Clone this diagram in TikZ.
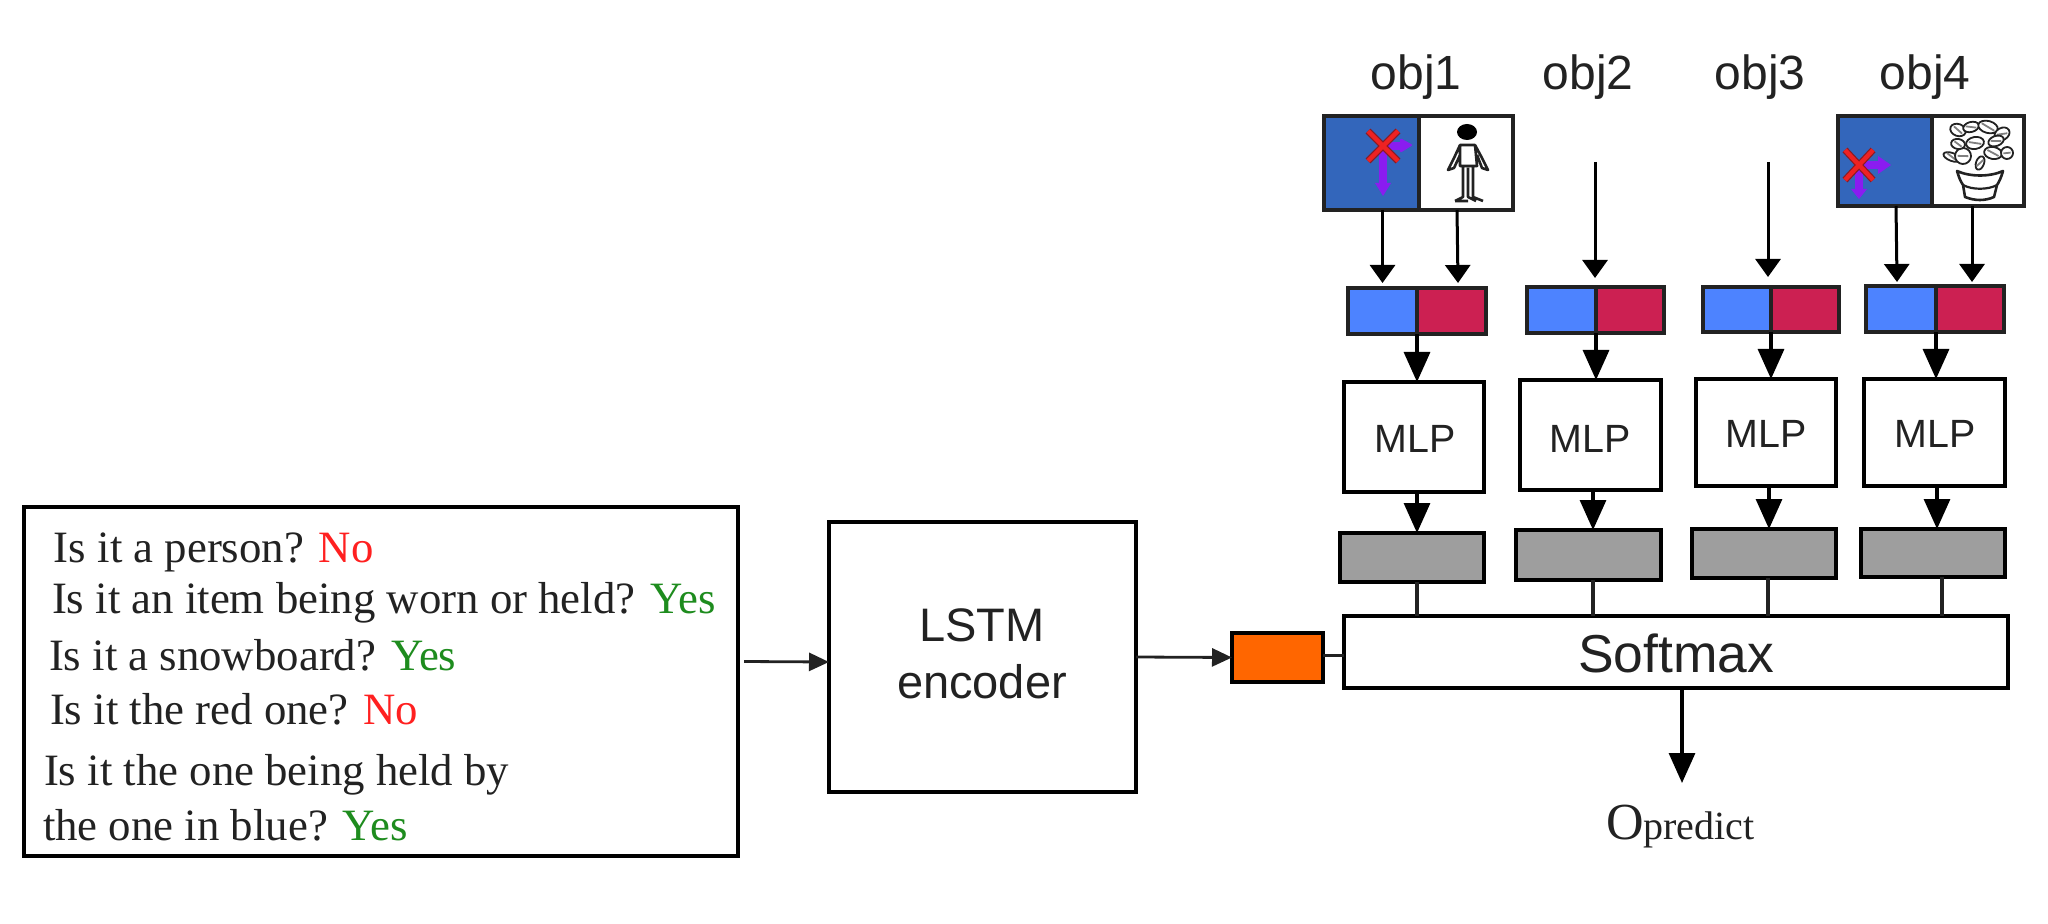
\documentclass[tikz,border=0pt]{standalone}
\usepackage{fontspec}
\setmainfont{Liberation Serif}
\setsansfont{Liberation Sans}
\usetikzlibrary{arrows.meta}
\definecolor{imgblue}{HTML}{3366BB}
\definecolor{vecblue}{HTML}{4D83FF}
\definecolor{vecred}{HTML}{CC2052}
\definecolor{hidgray}{HTML}{9E9E9E}
\definecolor{encorange}{HTML}{FF6600}
\definecolor{ansred}{HTML}{FF2020}
\definecolor{ansgreen}{HTML}{1E8C1E}
\definecolor{ink}{HTML}{222222}
\definecolor{xred}{HTML}{EE2222}
\definecolor{xdark}{HTML}{8A1A22}
\definecolor{xpurple}{HTML}{8A1CF0}
\newcommand{\pxbox}[6]{%
  \pgfmathsetmacro{\bw}{(#5-#3)*0.5}%
  \pgfmathsetmacro{\bh}{(#6-#4)*0.5}%
  \pgfmathsetmacro{\bx}{(#3+#5)/2}%
  \pgfmathsetmacro{\by}{(#4+#6)/2}%
  \node[boxbase,#2,minimum width=\bw pt,minimum height=\bh pt] (#1) at (\bx,\by) {};}
\newcommand{\mlptext}[3]{\node[mlplabel] (#1) at (#2,#3) {MLP};}
\tikzset{
  x=0.5pt,y=-0.5pt,
  boxbase/.style={draw=black,line width=1.7pt,fill=white,inner sep=0pt,outer sep=0pt},
  imgb/.style={fill=imgblue,draw=ink},
  imgw/.style={fill=white,draw=ink},
  vecl/.style={fill=vecblue,draw=ink},
  vecr/.style={fill=vecred,draw=ink},
  hid/.style={fill=hidgray,draw=black},
  enc/.style={fill=encorange,draw=black},
  qline/.style={anchor=base west,inner sep=0pt,outer sep=0pt,text=ink,font=\fontsize{22.4}{26}\selectfont},
  sanslabel/.style={inner sep=0pt,outer sep=0pt,text=ink,font=\sffamily\fontsize{23.5}{28}\selectfont},
  objlabel/.style={anchor=base,inner sep=0pt,outer sep=0pt,text=ink,font=\sffamily\fontsize{24}{28}\selectfont},
  mlplabel/.style={anchor=base,inner sep=0pt,outer sep=0pt,text=ink,font=\sffamily\fontsize{19.7}{24}\selectfont},
  thin arr/.style={draw=ink,line width=1.4pt,-{Triangle[length=10pt,width=9pt]}},
  small arr/.style={draw=black,line width=1.5pt,-{Triangle[length=9pt,width=12.5pt]}},
  big arr/.style={draw=black,line width=1.6pt,-{Triangle[length=15pt,width=13pt]}},
  plain link/.style={draw=ink,line width=1.7pt},
  leaf/.style={draw=ink,line width=0.9pt,fill=white},
  vein/.style={draw=gray,line width=0.9pt},
}
\begin{document}
\begin{tikzpicture}
\useasboundingbox (0,0) rectangle (2048,924);
\fill[white] (0,0) rectangle (2048,924);

% question box
\pxbox{qbox}{}{24}{507}{738}{856}
\node[qline] (q1) at (54,562) {Is it a person? \textcolor{ansred}{No}};
\node[qline] (q2) at (52,613) {Is it an item being worn or held? \textcolor{ansgreen}{Yes}};
\node[qline] (q3) at (49,670) {Is it a snowboard? \textcolor{ansgreen}{Yes}};
\node[qline] (q4) at (50,724) {Is it the red one? \textcolor{ansred}{No}};
\node[qline] (q5) at (44,785) {Is it the one being held by};
\node[qline] (q6) at (43,840) {the one in blue? \textcolor{ansgreen}{Yes}};

% encoder
\pxbox{lstm}{}{829}{522}{1136}{792}
\node[sanslabel,anchor=base] (lstm1) at (982,641) {LSTM};
\node[sanslabel,anchor=base] (lstm2) at (982,698) {encoder};
\pxbox{orange}{enc}{1232}{633}{1323}{682}
\pxbox{softmax}{}{1344}{616}{2008}{688}
\node[sanslabel,anchor=base,font=\sffamily\fontsize{26.7}{30}\selectfont] (softtext) at (1676,672) {Softmax};

% image crops
\pxbox{img1b}{imgb}{1324}{116}{1419}{210}
\pxbox{img1w}{imgw}{1419}{116}{1513}{210}
\pxbox{img4b}{imgb}{1838}{116}{1932}{206}
\pxbox{img4w}{imgw}{1932}{116}{2024}{206}

% concatenated vectors
\pxbox{c1l}{vecl}{1348}{288}{1417}{334}
\pxbox{c1r}{vecr}{1417}{288}{1486}{334}
\pxbox{c2l}{vecl}{1527}{287}{1596}{333}
\pxbox{c2r}{vecr}{1596}{287}{1664}{333}
\pxbox{c3l}{vecl}{1703}{287}{1771}{332}
\pxbox{c3r}{vecr}{1771}{287}{1839}{332}
\pxbox{c4l}{vecl}{1866}{286}{1936}{332}
\pxbox{c4r}{vecr}{1936}{286}{2004}{332}

% MLPs
\pxbox{m1}{}{1344}{382}{1484}{492}
\pxbox{m2}{}{1520}{380}{1661}{490}
\pxbox{m3}{}{1696}{379}{1836}{486}
\pxbox{m4}{}{1864}{379}{2005}{486}
\mlptext{mt1}{1415}{452}
\mlptext{mt2}{1590}{452}
\mlptext{mt3}{1766}{448}
\mlptext{mt4}{1935}{448}

% gray hidden vectors
\pxbox{g1}{hid}{1340}{533}{1484}{582}
\pxbox{g2}{hid}{1516}{530}{1661}{580}
\pxbox{g3}{hid}{1692}{529}{1836}{578}
\pxbox{g4}{hid}{1861}{529}{2005}{577}

% labels
\node[objlabel] (o1) at (1416,90) {obj1};
\node[objlabel] (o2) at (1588,90) {obj2};
\node[objlabel] (o3) at (1760,90) {obj3};
\node[objlabel] (o4) at (1925,90) {obj4};
\node[anchor=base west,inner sep=0pt,outer sep=0pt,text=ink] (pred) at (1606,839)
  {{\fontsize{26}{30}\selectfont O}{\fontsize{20}{24}\selectfont predict}};

% free arrow starts / ends
\coordinate (s2) at (1595,162);
\coordinate (e2) at (1595,278);
\coordinate (s3) at (1768,162);
\coordinate (e3) at (1768,277);
\coordinate (o5) at (1682,783);

% connectors
\draw[thin arr] ([xshift=3pt,yshift=10pt]qbox.east) -- ([yshift=-2.5pt]lstm.west);
\draw[thin arr] (lstm.east) -- (orange.west);
\draw[plain link] ([yshift=1pt]orange.east) -- ([yshift=1pt]orange.east -| softmax.west);

\draw[small arr] (c1l.north |- img1b.south) -- ([yshift=2.5pt]c1l.north);
\draw[small arr] ([xshift=-4.5pt]img1w.south) -- ([xshift=3.25pt,yshift=2.5pt]c1r.north);
\draw[small arr] (s2) -- (e2);
\draw[small arr] (s3) -- (e3);
\draw[small arr] ([xshift=5.5pt]img4b.south) -- ([xshift=-2pt,yshift=2pt]c4l.north);
\draw[small arr] ([xshift=-3pt]img4w.south) -- ([xshift=1pt,yshift=2pt]c4r.north);

\draw[big arr] (c1l.south east) -- (c1l.east |- m1.north);
\draw[big arr] (c2l.south east) -- (c2l.east |- m2.north);
\draw[big arr] (c3l.south east) -- (c3l.east |- m3.north);
\draw[big arr] (c4l.south east) -- (c4l.east |- m4.north);

\draw[big arr] ([xshift=1.5pt]m1.south) -- ([xshift=2.5pt]g1.north);
\draw[big arr] ([xshift=1.25pt]m2.south) -- ([xshift=2.25pt]g2.north);
\draw[big arr] ([xshift=1.5pt]m3.south) -- ([xshift=2.5pt]g3.north);
\draw[big arr] ([xshift=1.25pt]m4.south) -- ([xshift=2pt]g4.north);

\draw[plain link] ([xshift=2.5pt]g1.south) -- ([xshift=2.5pt]g1.south |- softmax.north);
\draw[plain link] ([xshift=2.25pt]g2.south) -- ([xshift=2.25pt]g2.south |- softmax.north);
\draw[plain link] ([xshift=2pt]g3.south) -- ([xshift=2pt]g3.south |- softmax.north);
\draw[plain link] ([xshift=4.5pt]g4.south) -- ([xshift=4.5pt]g4.south |- softmax.north);

\draw[big arr] (softmax.south -| o5) -- (o5);

% marks inside the blue crops
\draw[xpurple,line width=3.6pt] (1383,146) -- (1383,186);
\fill[xpurple] (1375,183) -- (1391,183) -- (1383,196) -- cycle;
\draw[xpurple,line width=3.6pt] (1383,146) -- (1405,146);
\fill[xpurple,rounded corners=1pt] (1400,138) -- (1413,145) -- (1400,153) -- cycle;
\draw[xdark,line width=3.4pt] (1368,131) -- (1398,161) (1398,131) -- (1368,161);
\draw[xred,line width=2.2pt] (1368,131) -- (1398,161) (1398,131) -- (1368,161);

\draw[xpurple,line width=3.6pt] (1859,165) -- (1859,192);
\fill[xpurple] (1851,189) -- (1867,189) -- (1859,199) -- cycle;
\draw[xpurple,line width=3.6pt] (1859,165) -- (1882,165);
\fill[xpurple] (1878,156) -- (1891,165) -- (1878,174) -- cycle;
\draw[xdark,line width=3.4pt] (1845,150) -- (1873,180) (1873,150) -- (1845,180);
\draw[xred,line width=2.2pt] (1845,150) -- (1873,180) (1873,150) -- (1845,180);

% person
\fill[black] (1467,132) ellipse [x radius=10,y radius=8];
\draw[ink,line width=1.3pt,line join=round]
  (1460,145) -- (1475,145) -- (1477,166) -- (1460,166) -- cycle
  (1460,145) -- (1454,158) -- (1448,170) -- (1454,168) -- (1460,155)
  (1475,145) -- (1482,158) -- (1488,170) -- (1482,168) -- (1477,155)
  (1463,166) -- (1463,197) -- (1455,201)
  (1468,168) -- (1468,197) -- (1476,201)
  (1473,166) -- (1473,197) -- (1483,201)
  (1455,201) -- (1468,201);

% pot plant
\begin{scope}[line join=round]
\foreach \lx/\ly/\lr/\la/\lb in {
  1958/130/-20/8/6, 1971/127/15/8/5, 1988/127/-15/10/6, 2002/134/30/8/6,
  1952/157/-20/9/4, 1963/156/20/8/8, 1980/163/70/7/4, 1993/153/-10/9/6,
  2007/153/40/6/6, 1975/143/10/9/6, 1958/144/-10/7/5, 1996/141/20/8/5}{
  \draw[leaf,rotate around={\lr:(\lx,\ly)}] (\lx,\ly) ellipse [x radius=\la,y radius=\lb];
  \draw[vein,rotate around={\lr:(\lx,\ly)}] (\lx-\la+3,\ly-2) -- (\lx+\la-3,\ly+2);
}
\draw[ink,line width=1.3pt,fill=white] (1957,171) .. controls (1959,178) and (1961,182) .. (1963,185)
  -- (1965,197) .. controls (1975,201) and (1985,201) .. (1994,197)
  -- (1997,185) .. controls (1999,182) and (2001,178) .. (2003,171)
  .. controls (1990,177) and (1970,177) .. (1957,171) -- cycle;
\draw[ink,line width=1.1pt] (1963,185) .. controls (1972,190) and (1988,190) .. (1997,185);
\end{scope}
\end{tikzpicture}
\end{document}
